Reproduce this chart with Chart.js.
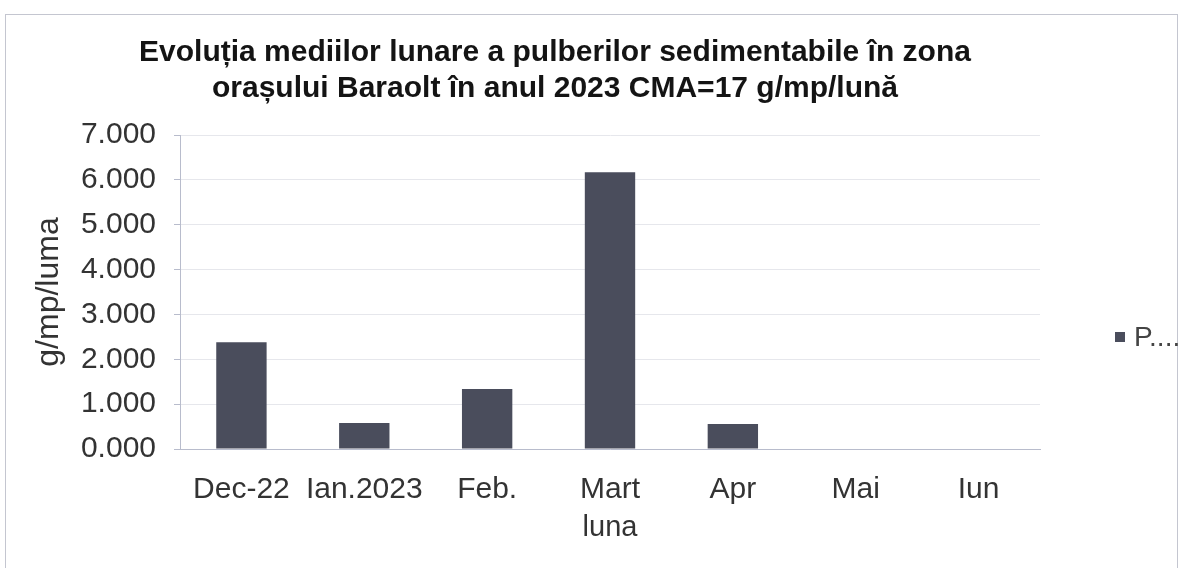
<!DOCTYPE html>
<html>
<head>
    <title>Pulberi sedimentabile Baraolt 2023</title>
    <style>
        body { margin: 0; background: #fff; }
        #chartBox { width: 1184px; height: 568px; }
    </style>
</head>
<body>
    <div id="chartBox"><canvas id="pulberiChart" width="1184" height="568"></canvas></div>

    <script src="https://cdn.jsdelivr.net/npm/chart.js"></script>
    <script>
        // data
        const months = ['Dec-22', 'Ian.2023', 'Feb.', 'Mart', 'Apr', 'Mai', 'Iun'];
        const monthlyAvg = [2.38, 0.58, 1.34, 6.17, 0.56, 0, 0];
        const seriesName = 'P....';
        const titleLines = ['Evoluția mediilor lunare a pulberilor sedimentabile în zona',
                            'orașului Baraolt în anul 2023 CMA=17 g/mp/lună'];
        const yMin = 0, yMax = 7, yStep = 1;

        const FONT = '"Liberation Sans", Arial, sans-serif';

        // frame, title and legend drawn by hand
        const decor = {
            id: 'decor',
            beforeDraw(chart) {
                const c = chart.ctx;
                c.save();
                c.fillStyle = '#fff';
                c.fillRect(0, 0, chart.width, chart.height);
                c.strokeStyle = '#c4c6d0';
                c.lineWidth = 1;
                c.strokeRect(5.5, 14.5, 1172, 600);
                c.restore();
            },
            afterDraw(chart) {
                const c = chart.ctx;
                c.save();
                c.fillStyle = '#141414';
                c.font = 'bold 30px ' + FONT;
                c.textAlign = 'center';
                c.textBaseline = 'middle';
                c.fillText(titleLines[0], 555, 53);
                c.fillText(titleLines[1], 555, 89);

                const ds = chart.data.datasets[0];
                c.fillStyle = ds.backgroundColor;
                c.fillRect(1115, 332, 10, 10);
                c.fillStyle = '#444';
                c.font = '28px ' + FONT;
                c.textAlign = 'left';
                c.fillText(ds.label, 1134, 338);
                c.restore();
            }
        };

        const ctx = document.getElementById('pulberiChart').getContext('2d');
        const chart = new Chart(ctx, {
            type: 'bar',
            data: {
                labels: months,
                datasets: [{
                    label: seriesName,
                    data: monthlyAvg,
                    backgroundColor: '#4a4d5c',
                    barPercentage: 0.41,
                    categoryPercentage: 1
                }]
            },
            options: {
                responsive: false,
                animation: false,
                layout: { padding: { left: 30, right: 144, top: 135, bottom: 19 } },
                plugins: {
                    legend: { display: false },
                    title: { display: false },
                    tooltip: { enabled: false }
                },
                scales: {
                    x: {
                        grid: { display: false, drawTicks: false },
                        border: { color: '#b8bccc' },
                        ticks: { color: '#333', font: { family: FONT, size: 30 }, padding: 23, maxRotation: 0 },
                        title: { display: true, text: 'luna', color: '#333', font: { family: FONT, size: 29 }, padding: { top: 4, bottom: 4 } },
                        afterFit(s) { s.height = 100; }
                    },
                    y: {
                        min: yMin,
                        max: yMax,
                        grid: { color: '#e6e7ec', tickLength: 6, tickColor: '#b8bccc' },
                        border: { color: '#b8bccc' },
                        ticks: {
                            stepSize: yStep,
                            color: '#333',
                            font: { family: FONT, size: 30 },
                            padding: 18,
                            callback: v => v.toFixed(3)
                        },
                        title: { display: true, text: 'g/mp/luma', color: '#333', font: { family: FONT, size: 32 }, padding: { top: 0, bottom: 2 } },
                        afterFit(s) { s.width = 150; }
                    }
                }
            },
            plugins: [decor]
        });
    </script>
</body>
</html>
